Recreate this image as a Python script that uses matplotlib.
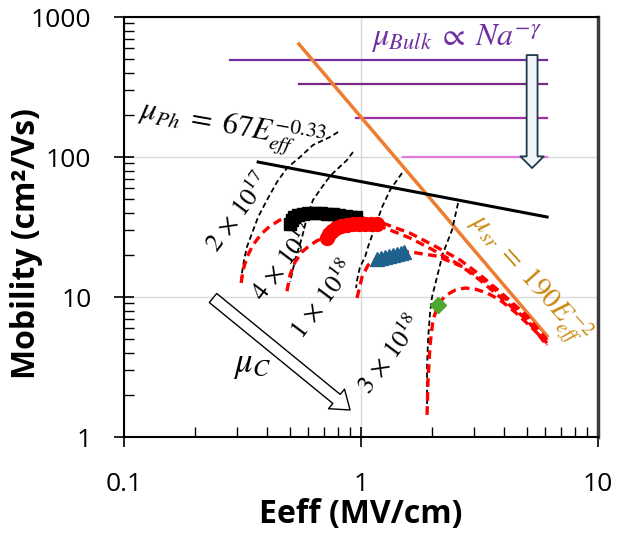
import matplotlib
matplotlib.use("Agg")
import matplotlib.pyplot as plt

plt.rcParams['font.family'] = ['Open Sans', 'DejaVu Sans']
plt.rcParams['mathtext.fontset'] = 'stix'

# measured data: Eeff (MV/cm) vs mobility (cm2/Vs)
sq_x = [0.50, 0.51, 0.52, 0.54, 0.57, 0.60, 0.64, 0.68, 0.72, 0.76, 0.81, 0.86, 0.91, 0.95]
sq_y = [33.5, 35.5, 37.5, 38.8, 39.5, 39.8, 40.0, 39.8, 39.4, 39.0, 38.5, 38.0, 37.5, 37.0]

circ_x = [0.72, 0.73, 0.755, 0.785, 0.82, 0.87, 0.925, 0.98, 1.04, 1.10, 1.17]
circ_y = [26.4, 28.2, 29.6, 31.0, 32.0, 32.6, 33.0, 33.2, 33.2, 33.2, 33.0]

tri_x = [1.17, 1.21, 1.26, 1.31, 1.37, 1.42, 1.48, 1.52]
tri_y = [18.7, 19.0, 19.3, 19.6, 19.9, 20.3, 20.6, 20.9]

dia_x = [2.11]
dia_y = [8.8]

# model curves (red dashed)
fitA_x = [0.312, 0.318, 0.330, 0.350, 0.379, 0.413, 0.455, 0.497, 0.553, 0.671, 0.815, 0.990,
          1.203, 1.610, 2.012, 2.617, 3.177, 3.860, 5.016, 6.095]
fitA_y = [12.6, 15.6, 19.3, 23.5, 28.2, 32.1, 35.5, 37.3, 38.5, 39.8, 39.2, 37.3,
          34.3, 28.6, 23.5, 18.4, 14.4, 10.9, 7.31, 4.93]
fitB_x = [0.487, 0.502, 0.527, 0.564, 0.609, 0.659, 0.719, 0.815, 0.990, 1.203, 1.610, 2.012,
          2.617, 3.177, 3.860, 5.016, 6.095]
fitB_y = [11.0, 14.4, 17.8, 21.0, 23.5, 25.5, 26.4, 31.1, 33.2, 32.1, 26.4, 21.7,
          16.9, 13.2, 10.0, 6.85, 4.54]
fitC_x = [0.962, 1.010, 1.070, 1.124, 1.168, 1.518, 1.610, 2.092, 2.695, 3.401, 4.130, 5.165, 6.095]
fitC_y = [9.84, 13.9, 16.9, 18.1, 18.7, 21.0, 21.0, 19.6, 16.4, 12.6, 9.52, 6.52, 4.47]
fitD_x = [1.899, 1.917, 1.955, 2.012, 2.113, 2.262, 2.493, 2.747, 3.027, 3.401, 3.860, 4.466,
          5.165, 6.095]
fitD_y = [1.44, 2.55, 4.54, 6.85, 8.77, 10.2, 11.2, 11.6, 11.4, 10.7, 9.52, 7.81, 6.21, 4.69]

# Coulomb-limited curves (black dashed), one per doping
coul_labels = [r'$2\,\times\,10^{17}$', r'$4\,\times\,10^{17}$',
               r'$1\,\times\,10^{18}$', r'$3\,\times\,10^{18}$']
coul_x = [
    [0.800, 0.740, 0.627, 0.553, 0.487, 0.442, 0.401, 0.368, 0.347, 0.330, 0.321, 0.315, 0.312],
    [0.925, 0.873, 0.762, 0.719, 0.685, 0.627, 0.592, 0.564, 0.527, 0.502],
    [1.489, 1.326, 1.227, 1.146, 1.070, 1.040, 0.990, 0.962, 0.953],
    [2.567, 2.421, 2.218, 2.092, 1.993, 1.955, 1.917, 1.899, 1.899],
]
coul_y = [
    [150.9, 139.0, 121.8, 100.0, 83.4, 66.3, 49.3, 37.3, 28.6, 22.8, 18.4, 15.1, 13.7],
    [108.6, 95.2, 76.8, 68.5, 61.1, 49.3, 37.3, 26.8, 18.4, 12.8],
    [76.8, 58.1, 43.9, 31.6, 22.8, 19.3, 16.4, 13.2, 11.6],
    [46.9, 30.1, 20.6, 13.9, 10.0, 7.69, 4.93, 3.16, 1.51],
]

# bulk mobility levels (purple), start of each line
bulk_y = [493, 332, 190, 100]
bulk_start = [0.28, 0.547, 0.953, 1.504]
bulk_end = 6.1
bulk_colors = ['#7030A0', '#7A2A85', '#A030A8', '#E07ADF']

# phonon and surface roughness lines (end points)
ph_x = [0.368, 6.095]
ph_y = [92.1, 37.3]
sr_x = [0.547, 6.095]
sr_y = [641, 5.27]

fig = plt.figure(figsize=(6.27, 5.39), dpi=100)
ax = fig.add_axes([0.1978, 0.1892, 0.756, 0.7792])
ax.set_xscale('log')
ax.set_yscale('log')
ax.set_xlim(0.1, 10)
ax.set_ylim(1, 1000)

ax.grid(True, which='major', color='#D9D9D9', lw=1)
ax.set_axisbelow(True)

for y, x0, c in zip(bulk_y, bulk_start, bulk_colors):
    ax.plot([x0, bulk_end], [y, y], color=c, lw=1.6)

ax.plot(sr_x, sr_y, color='#ED7D31', lw=2.5)
ax.plot(ph_x, ph_y, color='black', lw=2.2)

for cx, cy in zip(coul_x, coul_y):
    ax.plot(cx, cy, color='black', lw=1.3, linestyle=(0, (3.0, 1.8)))

for fx, fy in [(fitA_x, fitA_y), (fitB_x, fitB_y), (fitC_x, fitC_y), (fitD_x, fitD_y)]:
    ax.plot(fx, fy, color='#FF0000', lw=2.4, linestyle=(0, (2.6, 1.6)))

ax.plot(sq_x, sq_y, 's', color='black', ms=9, zorder=5)
ax.plot(circ_x, circ_y, 'o', color='#FF0000', ms=10, zorder=5)
ax.plot(tri_x, tri_y, '^', color='#1F618D', ms=9.5, zorder=5)
ax.plot(dia_x, dia_y, 'D', color='#4EA72E', ms=8.5, zorder=5)

# annotations
ax.text(2.52, 700, r'$\mu_{Bulk}\;\propto\;Na^{-\gamma}$', color='#7030A0', fontsize=23,
        ha='center', va='center')
ax.text(0.285, 160, r'$\mu_{Ph}\;=\;67E_{eff}^{-0.33}$', color='black', fontsize=22,
        ha='center', va='center', rotation=-10)
ax.text(5.07, 13.2, r'$\mu_{sr}\;=\;190E_{eff}^{-2}$', color='#C88A12', fontsize=21,
        ha='center', va='center', rotation=-48)
ax.text(0.347, 3.31, r'$\mu_C$', color='black', fontsize=25, ha='center', va='center')

lab_pos = [(0.3025, 39.8), (0.473, 17.8), (0.691, 9.52), (1.326, 3.85)]
for (lx, ly), t in zip(lab_pos, coul_labels):
    ax.text(lx, ly, t, fontsize=19, ha='center', va='center', rotation=53)

ax.annotate('', xy=(0.899, 1.56), xytext=(0.2374, 9.84),
            arrowprops=dict(arrowstyle='simple,head_length=0.45,head_width=0.65,tail_width=0.3',
                            fc='white', ec='black', lw=1, mutation_scale=28,
                            shrinkA=0, shrinkB=0))
ax.annotate('', xy=(5.27, 83.4), xytext=(5.27, 535),
            arrowprops=dict(arrowstyle='simple,head_length=0.3,head_width=0.6,tail_width=0.28',
                            fc='#EEF4F8', ec='#203A4A', lw=1.3, mutation_scale=28,
                            shrinkA=0, shrinkB=0))

# axes styling
ax.set_xticks([0.1, 1, 10], labels=['0.1', '1', '10'])
ax.set_yticks([1, 10, 100, 1000], labels=['1', '10', '100', '1000'])
ax.tick_params(which='major', direction='inout', length=15, width=1.2, labelsize=19)
ax.tick_params(axis='x', which='major', pad=18)
ax.tick_params(axis='y', which='major', pad=16)
ax.tick_params(which='minor', direction='in', length=7, width=1)
ax.xaxis.set_minor_formatter(matplotlib.ticker.NullFormatter())
ax.yaxis.set_minor_formatter(matplotlib.ticker.NullFormatter())

for s in ['left', 'bottom', 'top']:
    ax.spines[s].set_color('black')
    ax.spines[s].set_linewidth(1.5)
ax.spines['right'].set_color('#3A3A3A')
ax.spines['right'].set_linewidth(2.5)

ax.set_xlabel('Eeff (MV/cm)', fontsize=23, fontweight='bold')
ax.set_ylabel('Mobility (cm²/Vs)', fontsize=23, fontweight='bold')
ax.xaxis.set_label_coords(0.5, -0.145)
ax.yaxis.set_label_coords(-0.171, 0.46)

fig.savefig('out.png', dpi=100)
